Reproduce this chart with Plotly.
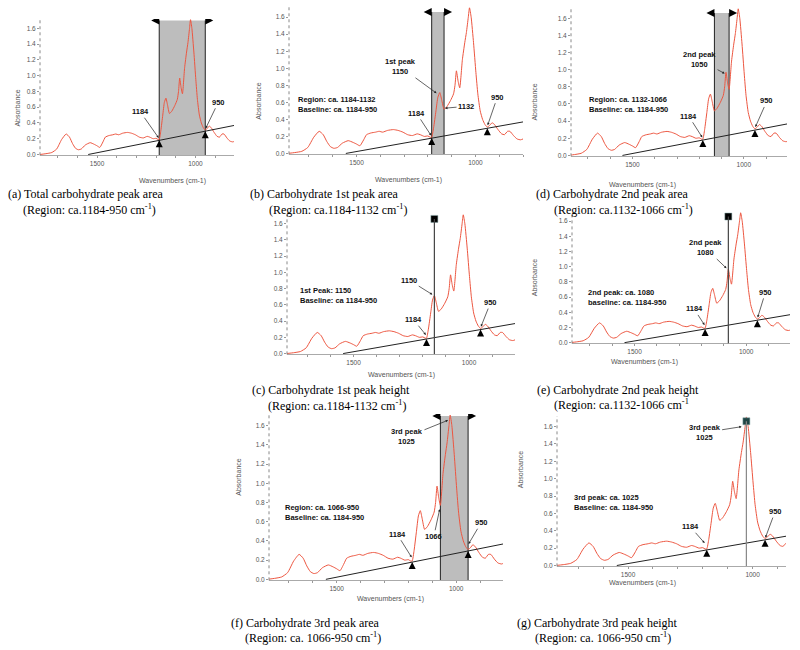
import plotly.graph_objects as go

W, H = 800, 650

# FTIR spectrum (same curve in every panel)
wavenumber = [1790, 1760, 1730, 1705, 1680, 1657, 1640, 1625, 1610, 1595,
              1580, 1560, 1535, 1515, 1500, 1486, 1470, 1458, 1440, 1420,
              1405, 1390, 1370, 1345, 1325, 1305, 1285, 1265, 1245, 1232,
              1215, 1200, 1190, 1184, 1176, 1166, 1158, 1150, 1142, 1132,
              1120, 1105, 1092, 1086, 1080, 1073, 1066, 1055, 1045, 1038,
              1030, 1025, 1018, 1008, 998, 990, 980, 970, 960, 950,
              940, 930, 920, 905, 890, 878, 865, 855, 840, 825,
              810, 800]
absorbance = [0.00, 0.01, 0.025, 0.07, 0.19, 0.26, 0.22, 0.14, 0.08, 0.06,
              0.07, 0.12, 0.15, 0.13, 0.11, 0.09, 0.16, 0.22, 0.24, 0.25,
              0.26, 0.25, 0.27, 0.28, 0.27, 0.25, 0.22, 0.21, 0.23, 0.22,
              0.20, 0.205, 0.19, 0.19, 0.30, 0.50, 0.66, 0.715, 0.63, 0.52,
              0.55, 0.62, 0.70, 0.80, 0.97, 0.85, 0.77, 1.10, 1.30, 1.42,
              1.60, 1.71, 1.60, 1.30, 0.95, 0.70, 0.50, 0.40, 0.34, 0.31,
              0.33, 0.36, 0.34, 0.28, 0.23, 0.22, 0.26, 0.26, 0.21, 0.17,
              0.16, 0.17]

baseline_wn = [1545, 800]
baseline_abs = [0.0, 0.37]
anchor_wn = [1184, 950]
anchor_abs = [0.18, 0.295]

panel_keys = ["a", "b", "d", "c", "e", "f", "g"]

# plot area in pixels: left, right, top, bottom
panel_box = {
    "a": (40, 234, 19, 156),
    "b": (289, 523, 7, 155),
    "d": (571, 787, 8, 157),
    "c": (287, 515, 215, 356),
    "e": (572, 790, 213, 345),
    "f": (269, 503, 416, 583),
    "g": (557, 786, 418, 569),
}
panel_xrange = {
    "a": [1790, 804], "b": [1784, 800], "d": [1776, 806], "c": [1788, 801],
    "e": [1780, 804], "f": [1783, 804], "g": [1785, 866],
}
region = {"a": (1184, 950, 1.70), "b": (1184, 1132, 1.66),
          "d": (1132, 1066, 1.66), "f": (1066, 950, 1.70)}
peak_line = {"c": (1150, 1.66), "e": (1080, 1.66), "g": (1025, 1.66)}

# text, x, y of the arrow tip, text offset in px
peak_labels = {
    "a": [("1184", 1184, 0.20, -19, -27), ("950", 950, 0.32, 13, -27)],
    "b": [("1st peak<br>1150", 1160, 0.70, -37, -27), ("1132", 1132, 0.53, 22, -2),
          ("1184", 1184, 0.20, -15, -23), ("950", 950, 0.32, 10, -29)],
    "d": [("2nd peak<br>1050", 1082, 0.95, -26, -14), ("1184", 1184, 0.20, -14, -22),
          ("950", 950, 0.32, 12, -27)],
    "c": [("1150", 1155, 0.72, -24, -15), ("1184", 1184, 0.22, -13, -16),
          ("950", 950, 0.32, 10, -25)],
    "e": [("2nd peak<br>1080", 1085, 0.97, -22, -21), ("1184", 1184, 0.22, -11, -17),
          ("950", 950, 0.32, 8, -26)],
    "f": [("3rd peak<br>1025", 1030, 1.66, -42, 17), ("1184", 1184, 0.22, -15, -24),
          ("1066", 1068, 0.74, -6, 28), ("950", 950, 0.36, 13, -22)],
    "g": [("3rd peak<br>1025", 1040, 1.60, -38, 6), ("1184", 1190, 0.25, -15, -17),
          ("950", 950, 0.31, 10, -27)],
}

info_text = {
    "b": ("Region: ca. 1184-1132<br>Baseline: ca. 1184-950", 296, 105),
    "d": ("Region: ca. 1132-1066<br>Baseline: ca. 1184-950", 587, 105),
    "c": ("1st Peak: 1150<br>Baseline: ca 1184-950", 298, 297),
    "e": ("2nd peak: ca. 1080<br>baseline: ca. 1184-950", 586, 299),
    "f": ("Region: ca. 1066-950<br>Baseline: ca. 1184-950", 283, 515),
    "g": ("3rd peak: ca. 1025<br>Baseline: ca. 1184-950", 572, 505),
}

captions = [
    ("(a) Total carbohydrate peak area", 6, 195),
    ("(Region: ca.1184-950 cm<sup>-1</sup>)", 21, 210),
    ("(b) Carbohydrate 1st peak area", 248, 195),
    ("(Region: ca.1184-1132 cm<sup>-1</sup>)", 267, 210),
    ("(d) Carbohydrate 2nd peak area", 534, 195),
    ("(Region: ca.1132-1066 cm<sup>-1</sup>)", 552, 210),
    ("(c) Carbohydrate 1st peak height", 250, 392),
    ("(Region: ca.1184-1132 cm<sup>-1</sup>)", 266, 407),
    ("(e) Carbohydrate 2nd peak height", 535, 392),
    ("(Region: ca.1132-1066 cm<sup>-1</sup>", 552, 406),
    ("(f) Carbohydrate 3rd peak area", 229, 626),
    ("(Region: ca. 1066-950 cm<sup>-1</sup>)", 243, 640),
    ("(g) Carbohydrate 3rd peak height", 515, 626),
    ("(Region: ca. 1066-950 cm<sup>-1</sup>)", 533, 640),
]

y_titles = {"a": (12, 88), "b": (253, 81), "d": (540, 82), "e": (540, 279),
            "f": (233, 500), "g": (520, 493)}
x_titles = {"a": (137, 176), "b": (408, 175), "d": (678, 180), "c": (402, 377),
            "e": (680, 364), "f": (390, 608), "g": (678, 592)}

RED = "#ec5640"
GREY = "#555555"
SANS = "Liberation Sans, Arial, sans-serif"
SERIF = "Liberation Serif, Times New Roman, serif"


def px(x):
    return x / W


def py(y):
    return 1 - y / H


fig = go.Figure()
shapes = []
annotations = []

for i, key in enumerate(panel_keys, start=1):
    xa = "x" if i == 1 else "x%d" % i
    ya = "y" if i == 1 else "y%d" % i
    L, R, T, B = panel_box[key]

    fig.update_layout({
        "xaxis" if i == 1 else "xaxis%d" % i: dict(
            domain=[px(L), px(R)], anchor=ya, range=panel_xrange[key],
            tick0=0, dtick=500, ticks="outside", ticklen=2, tickcolor="#999",
            showline=True, linecolor="#aaa", linewidth=1,
            minor=dict(dtick=100, ticks="outside", ticklen=2, tickcolor="#999"),
            tickfont=dict(family=SANS, size=6.5, color=GREY),
            showgrid=False, zeroline=False,
        ),
        "yaxis" if i == 1 else "yaxis%d" % i: dict(
            domain=[py(B), py(T)], anchor=xa, range=[-0.01, 1.72],
            tick0=0, dtick=0.2, tickformat=".1f", ticks="outside", ticklen=2,
            tickcolor="#999", showline=False,
            tickfont=dict(family=SANS, size=6.5, color=GREY),
            showgrid=False, zeroline=False,
        ),
    })

    # dotted y axis line
    shapes.append(dict(type="line", xref=xa + " domain", yref=ya + " domain",
                       x0=0, x1=0, y0=0, y1=1,
                       line=dict(color="#888", width=1, dash="dot")))

    if key in region:
        r0, r1, top = region[key]
        shapes.append(dict(type="rect", xref=xa, yref=ya, x0=r0, x1=r1,
                           y0=-0.01, y1=top, fillcolor="#bdbdbd",
                           line=dict(width=0), layer="below"))
        for edge in (r0, r1):
            shapes.append(dict(type="line", xref=xa, yref=ya, x0=edge, x1=edge,
                               y0=-0.01, y1=top, line=dict(color="#222", width=1),
                               layer="below"))
        left, right = max(r0, r1), min(r0, r1)
        shapes.append(dict(type="path", xref=xa, yref=ya, xsizemode="pixel",
                           ysizemode="pixel", xanchor=left, yanchor=top,
                           path="M0,4 L0,-4 L-8,0 Z", fillcolor="black",
                           line=dict(width=0)))
        shapes.append(dict(type="path", xref=xa, yref=ya, xsizemode="pixel",
                           ysizemode="pixel", xanchor=right, yanchor=top,
                           path="M0,4 L0,-4 L8,0 Z", fillcolor="black",
                           line=dict(width=0)))

    if key in peak_line:
        pk, top = peak_line[key]
        lc = "#888" if key == "g" else "#444"
        shapes.append(dict(type="line", xref=xa, yref=ya, x0=pk, x1=pk,
                           y0=-0.01, y1=top, line=dict(color=lc, width=1.2)))

    fig.add_trace(go.Scatter(x=wavenumber, y=absorbance, xaxis=xa, yaxis=ya,
                             mode="lines", line=dict(color=RED, width=1,
                                                     shape="spline", smoothing=0.5),
                             hoverinfo="skip"))
    fig.add_trace(go.Scatter(x=baseline_wn, y=baseline_abs, xaxis=xa, yaxis=ya,
                             mode="lines", line=dict(color="#222", width=1),
                             hoverinfo="skip"))

    if key in peak_line:
        pk, top = peak_line[key]
        sq = "#1f4444" if key == "g" else "black"
        fig.add_trace(go.Scatter(x=[pk], y=[top], xaxis=xa, yaxis=ya, mode="markers",
                                 marker=dict(symbol="square", size=7, color=sq,
                                             line=dict(width=0.5, color="#8aa")),
                                 hoverinfo="skip"))

    for wn, ab in zip(anchor_wn, anchor_abs):
        shapes.append(dict(type="path", xref=xa, yref=ya, xsizemode="pixel",
                           ysizemode="pixel", xanchor=wn, yanchor=ab,
                           path="M0,0 L-3.5,-7 L3.5,-7 Z", fillcolor="black",
                           line=dict(width=0)))

    for text, x, y, ax, ay in peak_labels[key]:
        annotations.append(dict(xref=xa, yref=ya, x=x, y=y, ax=ax, ay=ay,
                                text=text, showarrow=True, arrowhead=2,
                                arrowsize=0.7, arrowwidth=0.7, arrowcolor="#222",
                                standoff=1,
                                font=dict(family=SANS, size=7.5, color="#111",
                                          weight="bold")))

    if key in info_text:
        text, tx, ty = info_text[key]
        annotations.append(dict(xref="paper", yref="paper", x=px(tx), y=py(ty),
                                xanchor="left", yanchor="middle", align="left",
                                text=text, showarrow=False,
                                font=dict(family=SANS, size=7.5, color="#111",
                                          weight="bold")))

    if key in y_titles:
        tx, ty = y_titles[key]
        annotations.append(dict(xref="paper", yref="paper", x=px(tx), y=py(ty),
                                text="Absorbance", textangle=-90, showarrow=False,
                                font=dict(family=SANS, size=7, color=GREY)))
    tx, ty = x_titles[key]
    annotations.append(dict(xref="paper", yref="paper", x=px(tx), y=py(ty),
                            text="Wavenumbers (cm-1)", showarrow=False,
                            font=dict(family=SANS, size=7, color=GREY)))

for text, cx, cy in captions:
    annotations.append(dict(xref="paper", yref="paper", x=px(cx), y=py(cy),
                            xanchor="left", yanchor="middle", text=text,
                            showarrow=False,
                            font=dict(family=SERIF, size=12, color="black")))

fig.update_layout(width=W, height=H, margin=dict(l=0, r=0, t=0, b=0),
                  paper_bgcolor="white", plot_bgcolor="white", showlegend=False,
                  shapes=shapes, annotations=annotations)

# the page's default body margin would push the 800x650 figure off the window
fig.write_html("out.html", config={"displayModeBar": False},
               post_script="document.body.style.margin = '0';")
